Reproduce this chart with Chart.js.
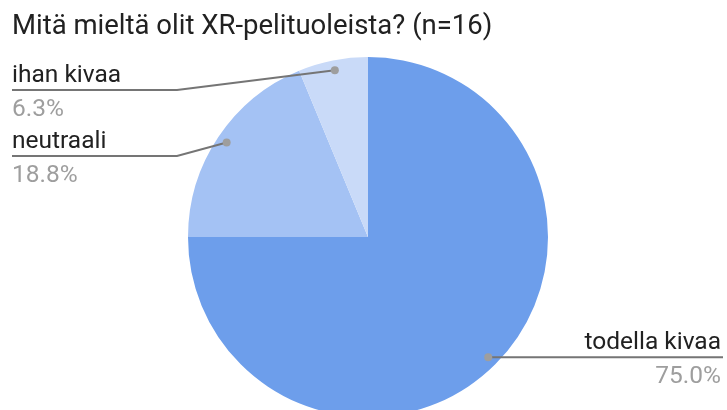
<!DOCTYPE html>
<html>
<head>
<meta charset="utf-8">
<script src="https://cdn.jsdelivr.net/npm/chart.js@4"></script>
<style>
  html, body { margin: 0; padding: 0; background: #fff; overflow: hidden; }
  #wrap { position: relative; width: 727px; height: 430px; }
</style>
</head>
<body>
<div id="wrap"><canvas id="c"></canvas></div>
<script>
const titleText = "Mitä mieltä olit XR-pelituoleista? (n=16)";
const categories = ["todella kivaa", "neutraali", "ihan kivaa"];
const counts = [12, 3, 1];
const percentLabels = ["75.0%", "18.8%", "6.3%"];
const colors = ["#6d9eeb", "#a4c2f4", "#c9daf8"];

const FONT = "Roboto, 'Noto Sans', sans-serif";

const labelPlugin = {
  id: "leaderLabels",
  afterDatasetsDraw(chart) {
    const ctx = chart.ctx;
    const meta = chart.getDatasetMeta(0);
    ctx.save();
    // title
    ctx.fillStyle = "#212121";
    ctx.font = "27.5px " + FONT;
    ctx.textAlign = "left";
    ctx.textBaseline = "alphabetic";
    ctx.fillText(titleText, 12, 34);

    const leftSlots = {2: 90, 1: 156};
    meta.data.forEach((arc, i) => {
      const p = arc.getProps(["x", "y", "startAngle", "endAngle", "outerRadius"], true);
      const mid = (p.startAngle + p.endAngle) / 2;
      const r = p.outerRadius - 10;
      const dx = p.x + Math.cos(mid) * r;
      const dy = p.y + Math.sin(mid) * r;
      ctx.strokeStyle = "#757575";
      ctx.lineWidth = 2;
      ctx.beginPath();
      let lineY, textX, align;
      if (i in leftSlots) {
        lineY = leftSlots[i];
        ctx.moveTo(dx, dy);
        ctx.lineTo(177, lineY);
        ctx.lineTo(12, lineY);
        textX = 12; align = "left";
      } else {
        lineY = dy;
        ctx.moveTo(dx, dy);
        ctx.lineTo(723, lineY);
        textX = 721; align = "right";
      }
      ctx.stroke();
      ctx.fillStyle = "#9e9e9e";
      ctx.beginPath();
      ctx.arc(dx, dy, 4, 0, Math.PI * 2);
      ctx.fill();

      ctx.textAlign = align;
      ctx.font = "24.5px " + FONT;
      ctx.fillStyle = "#212121";
      ctx.fillText(chart.data.labels[i], textX, lineY - 8);
      ctx.fillStyle = "#9e9e9e";
      ctx.fillText(percentLabels[i], textX, lineY + 26);
    });
    ctx.restore();
  }
};

new Chart(document.getElementById("c"), {
  type: "pie",
  data: {
    labels: categories,
    datasets: [{
      data: counts,
      backgroundColor: colors,
      borderWidth: 0
    }]
  },
  options: {
    responsive: true,
    maintainAspectRatio: false,
    animation: false,
    layout: { padding: { top: 57, bottom: 13, left: 9, right: 0 } },
    plugins: {
      legend: { display: false },
      tooltip: { enabled: false },
      title: { display: false }
    }
  },
  plugins: [labelPlugin]
});
</script>
</body>
</html>
